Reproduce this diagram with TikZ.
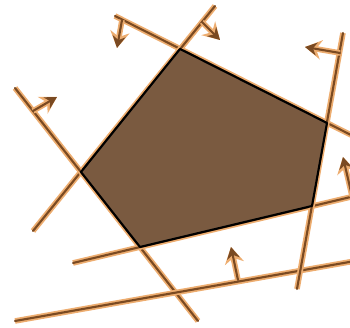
\documentclass[tikz,border=0pt]{standalone}
\usepackage{tikz}
\usetikzlibrary{arrows.meta}
\definecolor{halo}{HTML}{EDAD70}
\definecolor{rim}{HTML}{7A4A22}
\definecolor{region}{HTML}{7A5A40}

\begin{document}
\begin{tikzpicture}[x=0.01cm, y=-0.01cm]
    \tikzstyle{bound} = [draw=rim, line width=0.6pt, line cap=round, preaction={draw=halo, line width=1.6pt}]
    \tikzstyle{normal} = [bound, -{Stealth[length=2.6pt 1.3, width=2.6pt 1.8]}]
    \tikzstyle{face} = [fill=region, draw=black, line width=0.6pt, line join=round]

    \useasboundingbox (0,0) rectangle (350,328);
    \clip (0,0) rectangle (350,328);

    % corners of the feasible region
    \coordinate (A) at (180,49);
    \coordinate (B) at (327,123);
    \coordinate (C) at (312,206);
    \coordinate (D) at (140,247);
    \coordinate (E) at (81,172);

    % ends of the boundary lines
    \coordinate (l1a) at (115,16);  \coordinate (l1b) at (355,137);
    \coordinate (l2a) at (215,6);   \coordinate (l2b) at (33,231);
    \coordinate (l3a) at (15,88);   \coordinate (l3b) at (198,321);
    \coordinate (l4a) at (73,263);  \coordinate (l4b) at (355,196);
    \coordinate (l5a) at (15,321);  \coordinate (l5b) at (355,261);
    \coordinate (l6a) at (343,33);  \coordinate (l6b) at (297,289);

    % feet and tips of the normals
    \coordinate (n1) at (122,20);  \coordinate (m1) at (117,48);
    \coordinate (n2) at (202,22);  \coordinate (m2) at (220,40);
    \coordinate (n3) at (33,111);  \coordinate (m3) at (57,97);
    \coordinate (n4) at (352,196); \coordinate (m4) at (343,157);
    \coordinate (n5) at (238,280); \coordinate (m5) at (231,247);
    \coordinate (n6) at (340,53);  \coordinate (m6) at (305,47);

    \draw [bound] (l1a) -- (l1b);
    \draw [bound] (l2a) -- (l2b);
    \draw [bound] (l3a) -- (l3b);
    \draw [bound] (l4a) -- (l4b);
    \draw [bound] (l5a) -- (l5b);
    \draw [bound] (l6a) -- (l6b);

    \draw [normal] (n1) -- (m1);
    \draw [normal] (n2) -- (m2);
    \draw [normal] (n3) -- (m3);
    \draw [normal] (n4) -- (m4);
    \draw [normal] (n5) -- (m5);
    \draw [normal] (n6) -- (m6);

    \draw [face] (A) -- (B) -- (C) -- (D) -- (E) -- cycle;
\end{tikzpicture}
\end{document}
